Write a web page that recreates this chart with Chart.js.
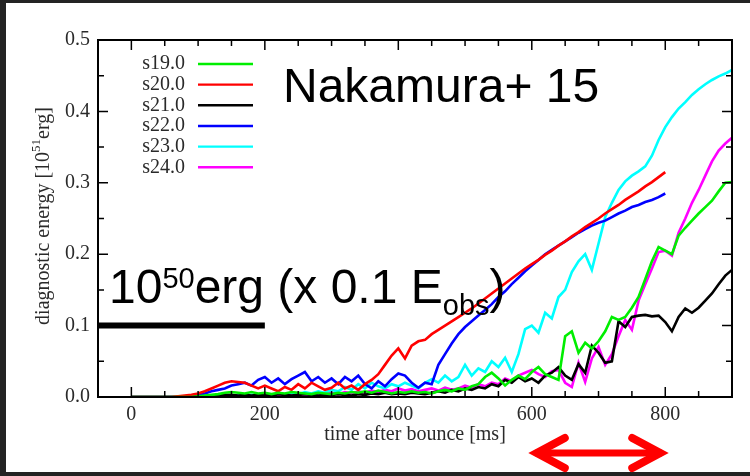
<!DOCTYPE html>
<html>
<head>
<meta charset="utf-8">
<script src="https://cdn.jsdelivr.net/npm/chart.js@4.4.1/dist/chart.umd.min.js"></script>
<style>
    html, body { margin: 0; padding: 0; background: #fff; overflow: hidden; }
    .edge { position: absolute; background: #232323; }
    #chart { position: absolute; left: 0; top: 0; }
</style>
</head>
<body>
<div class="edge" style="left:0;top:0;width:6px;height:476px"></div>
<div class="edge" style="left:0;top:0;width:800px;height:3px"></div>
<div class="edge" style="left:0;top:472px;width:800px;height:10px"></div>
<canvas id="chart" width="750" height="476"></canvas>
<script>
// ---------------------------
// Data
// ---------------------------
const times = [
    0, 10, 20, 30, 40, 50, 60, 70, 80, 90,
    100, 110, 120, 130, 140, 150, 160, 170, 180, 190,
    200, 210, 220, 230, 240, 250, 260, 270, 280, 290,
    300, 310, 320, 330, 340, 350, 360, 370, 380, 390,
    400, 410, 420, 430, 440, 450, 460, 470, 480, 490,
    500, 510, 520, 530, 540, 550, 560, 570, 580, 590,
    600, 610, 620, 630, 640, 650, 660, 670, 680, 690,
    700, 710, 720, 730, 740, 750, 760, 770, 780, 790,
    800, 810, 820, 830, 840, 850, 860, 870, 880, 890,
    900
];

const s19 = [
    0, 0, 0, 0, 0, 0, 0, 0, 0, 0,
    0.001, 0.002, 0.003, 0.004, 0.006, 0.007, 0.006, 0.005, 0.007, 0.005,
    0.006, 0.004, 0.006, 0.005, 0.007, 0.006, 0.005, 0.004, 0.006, 0.005,
    0.004, 0.006, 0.005, 0.007, 0.006, 0.008, 0.006, 0.009, 0.007, 0.005,
    0.007, 0.006, 0.008, 0.006, 0.007, 0.005, 0.008, 0.010, 0.008, 0.012,
    0.010, 0.015, 0.018, 0.028, 0.034, 0.026, 0.016, 0.024, 0.030, 0.025,
    0.035, 0.042, 0.032, 0.028, 0.024, 0.085, 0.092, 0.062, 0.076, 0.068,
    0.078, 0.092, 0.112, 0.108, 0.112, 0.125, 0.140, 0.165, 0.190, 0.210,
    0.205, 0.200, 0.226, 0.237, 0.247, 0.257, 0.266, 0.275, 0.288, 0.300,
    0.301
];

const s20 = [
    0, 0, 0, 0, 0, 0, 0, 0.001, 0.002, 0.003,
    0.005, 0.008, 0.012, 0.016, 0.020, 0.022, 0.021, 0.020, 0.016, 0.012,
    0.016, 0.012, 0.008, 0.014, 0.010, 0.018, 0.012, 0.020, 0.015, 0.010,
    0.013, 0.020, 0.012, 0.016, 0.010, 0.018, 0.024, 0.032, 0.045, 0.058,
    0.068, 0.054, 0.072, 0.078, 0.080, 0.088, 0.094, 0.100, 0.106, 0.112,
    0.118, 0.124, 0.131, 0.138, 0.145, 0.152, 0.159, 0.166, 0.173, 0.180,
    0.186, 0.192, 0.199, 0.205, 0.212, 0.218, 0.225, 0.231, 0.238, 0.244,
    0.250, 0.257, 0.263, 0.269, 0.276, 0.282, 0.288, 0.295, 0.301, 0.308,
    0.315
];

const s21 = [
    0, 0, 0, 0, 0, 0, 0, 0, 0, 0,
    0.001, 0.001, 0.002, 0.002, 0.003, 0.003, 0.002, 0.003, 0.002, 0.003,
    0.003, 0.002, 0.004, 0.003, 0.002, 0.003, 0.004, 0.003, 0.002, 0.003,
    0.003, 0.004, 0.003, 0.002, 0.004, 0.003, 0.005, 0.004, 0.006, 0.004,
    0.005, 0.004, 0.006, 0.005, 0.004, 0.006, 0.008, 0.006, 0.010, 0.008,
    0.012, 0.010, 0.014, 0.012, 0.018, 0.015, 0.024, 0.020, 0.028, 0.022,
    0.026, 0.020, 0.030, 0.034, 0.042, 0.030, 0.024, 0.046, 0.034, 0.072,
    0.062, 0.048, 0.050, 0.106, 0.098, 0.112, 0.114, 0.115, 0.113, 0.114,
    0.105, 0.092, 0.112, 0.124, 0.118, 0.125, 0.135, 0.145, 0.158, 0.170,
    0.178
];

const s22 = [
    0, 0, 0, 0, 0, 0, 0, 0, 0.001, 0.002,
    0.003, 0.005, 0.008, 0.010, 0.012, 0.016, 0.018, 0.020, 0.016, 0.024,
    0.028, 0.020, 0.026, 0.018, 0.025, 0.030, 0.035, 0.022, 0.028, 0.020,
    0.026, 0.018, 0.028, 0.022, 0.030, 0.018, 0.012, 0.022, 0.015, 0.025,
    0.033, 0.030, 0.020, 0.013, 0.020, 0.018, 0.045, 0.060, 0.075, 0.088,
    0.098, 0.106, 0.114, 0.122, 0.130, 0.140, 0.148, 0.158, 0.167, 0.176,
    0.184, 0.192, 0.200, 0.206, 0.212, 0.218, 0.224, 0.230, 0.235, 0.240,
    0.244, 0.247, 0.252, 0.257, 0.261, 0.266, 0.269, 0.273, 0.276, 0.280,
    0.285
];

const s23 = [
    0, 0, 0, 0, 0, 0, 0, 0, 0, 0,
    0, 0, 0, 0, 0.001, 0.001, 0.002, 0.002, 0.003, 0.003,
    0.004, 0.003, 0.005, 0.004, 0.006, 0.004, 0.007, 0.005, 0.008, 0.006,
    0.010, 0.008, 0.014, 0.010, 0.018, 0.012, 0.020, 0.015, 0.012, 0.018,
    0.015, 0.020, 0.016, 0.012, 0.020, 0.025, 0.020, 0.030, 0.022, 0.028,
    0.045, 0.030, 0.040, 0.035, 0.050, 0.042, 0.055, 0.035, 0.060, 0.095,
    0.100, 0.090, 0.118, 0.110, 0.140, 0.150, 0.175, 0.190, 0.200, 0.178,
    0.215, 0.252, 0.272, 0.290, 0.302, 0.310, 0.316, 0.323, 0.338, 0.360,
    0.378, 0.392, 0.404, 0.413, 0.423, 0.431, 0.438, 0.444, 0.449, 0.453,
    0.458
];

const s24 = [
    0, 0, 0, 0, 0, 0, 0, 0, 0, 0,
    0, 0, 0, 0, 0, 0, 0, 0, 0, 0,
    0.001, 0.001, 0.002, 0.002, 0.003, 0.002, 0.004, 0.003, 0.005, 0.004,
    0.006, 0.004, 0.007, 0.005, 0.008, 0.006, 0.009, 0.007, 0.010, 0.008,
    0.012, 0.009, 0.011, 0.008, 0.010, 0.012, 0.009, 0.013, 0.010, 0.012,
    0.016, 0.013, 0.018, 0.015, 0.020, 0.018, 0.026, 0.022, 0.030, 0.034,
    0.038, 0.032, 0.028, 0.036, 0.038, 0.020, 0.014, 0.048, 0.021, 0.054,
    0.070, 0.045, 0.060, 0.085, 0.108, 0.094, 0.135, 0.158, 0.180, 0.203,
    0.205, 0.198, 0.230, 0.250, 0.272, 0.290, 0.310, 0.330, 0.345, 0.355,
    0.363
];

// 10^50 erg level, drawn from -50 to 200 ms
const refTimes = [-50, 200];
const refLevel = [0.1, 0.1];

const xTicks = [0, 200, 400, 600, 800];
const yTicks = [0, 0.1, 0.2, 0.3, 0.4, 0.5];

const seriesNames = ['s19.0', 's20.0', 's21.0', 's22.0', 's23.0', 's24.0'];
const seriesColors = ['#00ee00', '#ff0000', '#000000', '#0000ff', '#00ffff', '#ff00ff'];
const seriesValues = [s19, s20, s21, s22, s23, s24];

// ---------------------------
// Helpers
// ---------------------------
const SERIF = '"Liberation Serif", "Times New Roman", serif';
const SANS = '"Liberation Sans", Arial, sans-serif';
const TEXT = '#2a2a2a';

function toPoints(xs, ys) {
    return ys.map((y, i) => ({ x: xs[i], y: y }));
}

// draws a run of text pieces (for super/subscripts)
function drawRich(ctx, x, y, parts) {
    parts.forEach(p => {
        ctx.font = p.font;
        ctx.fillText(p.text, x, y + (p.dy || 0));
        x += ctx.measureText(p.text).width;
    });
}

function richWidth(ctx, parts) {
    let w = 0;
    parts.forEach(p => { ctx.font = p.font; w += ctx.measureText(p.text).width; });
    return w;
}

// ---------------------------
// Frame, ticks, legend, notes
// ---------------------------
const decorations = {
    id: 'decorations',
    afterDatasetsDraw(chart) {
        const { ctx, chartArea: a, scales: { x, y } } = chart;
        ctx.save();

        // box
        ctx.strokeStyle = '#000';
        ctx.lineWidth = 2;
        ctx.strokeRect(a.left, a.top, a.right - a.left, a.bottom - a.top);

        // inward ticks
        ctx.lineWidth = 1.5;
        ctx.beginPath();
        for (let t = -50; t <= 900; t += 50) {
            const px = x.getPixelForValue(t);
            const len = t % 200 === 0 ? 10 : 6;
            ctx.moveTo(px, a.bottom); ctx.lineTo(px, a.bottom - len);
            ctx.moveTo(px, a.top); ctx.lineTo(px, a.top + len);
        }
        for (let k = 0; k <= 10; k++) {
            const py = y.getPixelForValue(k * 0.05);
            const len = k % 2 === 0 ? 10 : 6;
            ctx.moveTo(a.left, py); ctx.lineTo(a.left + len, py);
            ctx.moveTo(a.right, py); ctx.lineTo(a.right - len, py);
        }
        ctx.stroke();

        // legend
        ctx.font = '20px ' + SERIF;
        ctx.textAlign = 'right';
        ctx.textBaseline = 'middle';
        seriesNames.forEach((name, i) => {
            const ly = 64 + i * 20.65;
            ctx.fillStyle = TEXT;
            ctx.fillText(name, 185, ly);
            ctx.strokeStyle = seriesColors[i];
            ctx.lineWidth = 2.4;
            ctx.beginPath();
            ctx.moveTo(198, ly); ctx.lineTo(253, ly);
            ctx.stroke();
        });

        ctx.restore();
    },
    afterDraw(chart) {
        const { ctx, scales: { x } } = chart;
        ctx.save();
        ctx.fillStyle = TEXT;
        ctx.textAlign = 'left';
        ctx.textBaseline = 'middle';

        // y axis title, rotated
        const yParts = [
            { text: 'diagnostic energy [10', font: '20px ' + SERIF },
            { text: '51', font: '13px ' + SERIF, dy: -7 },
            { text: 'erg]', font: '20px ' + SERIF }
        ];
        ctx.translate(44, 216);
        ctx.rotate(-Math.PI / 2);
        drawRich(ctx, -richWidth(ctx, yParts) / 2, 0, yParts);
        ctx.setTransform(1, 0, 0, 1, 0, 0);

        // annotations
        ctx.fillStyle = '#000';
        ctx.textBaseline = 'alphabetic';
        ctx.font = '48px ' + SANS;
        ctx.fillText('Nakamura+ 15', 283, 102);

        drawRich(ctx, 109, 303, [
            { text: '10', font: '48px ' + SANS },
            { text: '50', font: '29px ' + SANS, dy: -15 },
            { text: 'erg (x 0.1 E', font: '48px ' + SANS },
            { text: 'obs', font: '29px ' + SANS, dy: 12 },
            { text: ')', font: '48px ' + SANS }
        ]);

        // red double arrow under 600-800 ms
        const x0 = x.getPixelForValue(600) + 5;
        const x1 = x.getPixelForValue(800) - 5;
        const ay = 453;
        ctx.strokeStyle = '#ff0000';
        ctx.lineCap = 'round';
        ctx.lineJoin = 'miter';
        ctx.lineWidth = 7;
        ctx.beginPath();
        ctx.moveTo(x0, ay); ctx.lineTo(x1, ay);
        ctx.stroke();
        ctx.lineWidth = 8;
        ctx.beginPath();
        ctx.moveTo(x0 + 28, ay - 15); ctx.lineTo(x0, ay); ctx.lineTo(x0 + 28, ay + 15);
        ctx.moveTo(x1 - 28, ay - 15); ctx.lineTo(x1, ay); ctx.lineTo(x1 - 28, ay + 15);
        ctx.stroke();

        ctx.restore();
    }
};

// ---------------------------
// Chart
// ---------------------------
const datasets = seriesNames.map((name, i) => ({
    label: name,
    data: toPoints(times, seriesValues[i]),
    borderColor: seriesColors[i],
    borderWidth: 2.6,
    pointRadius: 0,
    tension: 0
}));

datasets.push({
    label: 'ref',
    data: toPoints(refTimes, refLevel),
    borderColor: '#000',
    borderWidth: 6,
    pointRadius: 0
});

new Chart(document.getElementById('chart'), {
    type: 'line',
    data: { datasets: datasets },
    options: {
        responsive: false,
        animation: false,
        devicePixelRatio: 1,
        layout: { padding: { top: 40, right: 18, left: 0, bottom: 0 } },
        plugins: {
            legend: { display: false },
            tooltip: { enabled: false }
        },
        scales: {
            x: {
                type: 'linear',
                min: -50,
                max: 900,
                grid: { display: false, drawTicks: false },
                border: { display: false },
                afterBuildTicks: s => { s.ticks = xTicks.map(v => ({ value: v })); },
                afterFit: s => { s.height = 79; },
                ticks: {
                    padding: 6,
                    maxRotation: 0,
                    color: TEXT,
                    font: { family: SERIF, size: 20 }
                },
                title: {
                    display: true,
                    text: 'time after bounce [ms]',
                    color: TEXT,
                    font: { family: SERIF, size: 20 },
                    padding: { top: 0, bottom: 29 }
                }
            },
            y: {
                type: 'linear',
                min: 0,
                max: 0.5,
                grid: { display: false, drawTicks: false },
                border: { display: false },
                afterBuildTicks: s => { s.ticks = yTicks.map(v => ({ value: v })); },
                afterFit: s => { s.width = 98; },
                ticks: {
                    padding: 8,
                    color: TEXT,
                    font: { family: SERIF, size: 20 },
                    callback: v => Number(v).toFixed(1)
                }
            }
        }
    },
    plugins: [decorations]
});
</script>
</body>
</html>
